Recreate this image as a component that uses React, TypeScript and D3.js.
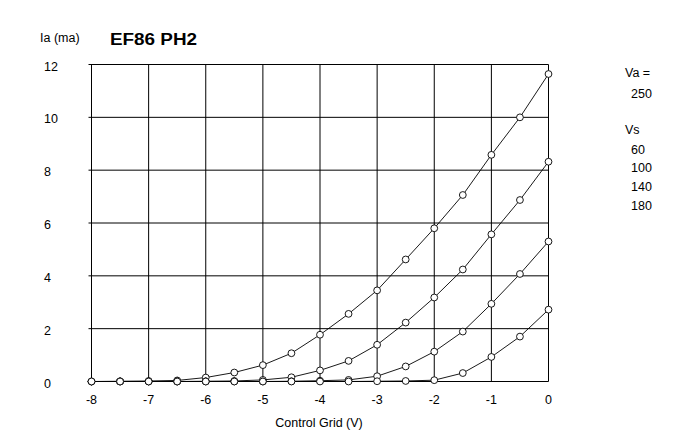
// @ts-nocheck
import React, { useEffect, useRef } from "react";
import * as d3 from "d3";

// grid voltage (V) for every measured point
const gridVolts = [-8, -7.5, -7, -6.5, -6, -5.5, -5, -4.5, -4, -3.5, -3, -2.5, -2, -1.5, -1, -0.5, 0];

// anode current (mA), one array per screen voltage Vs
const ia60 = [0, 0.01, 0.02, 0.04, 0.15, 0.34, 0.62, 1.07, 1.77, 2.56, 3.45, 4.62, 5.8, 7.06, 8.58, 10.0, 11.64];
const ia100 = [0, 0, 0, 0, 0.01, 0.02, 0.06, 0.16, 0.42, 0.78, 1.39, 2.23, 3.18, 4.24, 5.57, 6.87, 8.32];
const ia140 = [0, 0, 0, 0, 0, 0, 0, 0.01, 0.03, 0.06, 0.2, 0.57, 1.13, 1.89, 2.94, 4.07, 5.3];
const ia180 = [0, 0, 0, 0, 0, 0, 0, 0, 0, 0, 0.01, 0.02, 0.05, 0.32, 0.93, 1.7, 2.72];

const seriesNames = ["60", "100", "140", "180"];
const xTicks = [-8, -7, -6, -5, -4, -3, -2, -1, 0];
const yTicks = [0, 2, 4, 6, 8, 10, 12];

const W = 685;
const H = 447;
const FONT = "'Liberation Sans', Arial, sans-serif";
const FS = 12.5;

export default function App() {
  const ref = useRef(null);

  useEffect(() => {
    const svg = d3.select(ref.current);
    svg.selectAll("*").remove();

    const x = d3.scaleLinear().domain([-8, 0]).range([91.5, 548.5]);
    const y = d3.scaleLinear().domain([0, 12]).range([381.5, 64.5]);

    svg.append("rect").attr("width", W).attr("height", H).attr("fill", "#fff");

    // grid
    const grid = svg.append("g").attr("stroke", "#000").attr("stroke-width", 1);
    grid
      .selectAll("line.v")
      .data(xTicks)
      .enter()
      .append("line")
      .attr("x1", (d) => x(d))
      .attr("x2", (d) => x(d))
      .attr("y1", y(12))
      .attr("y2", y(0));
    grid
      .selectAll("line.h")
      .data(yTicks)
      .enter()
      .append("line")
      .attr("x1", x(-8) - 3)
      .attr("x2", x(0))
      .attr("y1", (d) => y(d))
      .attr("y2", (d) => y(d));

    // y tick labels
    svg
      .selectAll("text.yt")
      .data(yTicks)
      .enter()
      .append("text")
      .attr("x", 44)
      .attr("y", (d) => y(d) + 6)
      .attr("font-family", FONT)
      .attr("font-size", FS)
      .text((d) => d);

    // x tick labels
    svg
      .selectAll("text.xt")
      .data(xTicks)
      .enter()
      .append("text")
      .attr("x", (d) => x(d))
      .attr("y", 404)
      .attr("text-anchor", "middle")
      .attr("font-family", FONT)
      .attr("font-size", FS)
      .text((d) => d);

    // curves
    const all = [ia60, ia100, ia140, ia180];
    const line = d3
      .line()
      .x((d, i) => x(gridVolts[i]))
      .y((d) => y(d));

    all.forEach((vals) => {
      svg
        .append("path")
        .attr("d", line(vals))
        .attr("fill", "none")
        .attr("stroke", "#000")
        .attr("stroke-width", 0.9);
    });
    all.forEach((vals) => {
      svg
        .append("g")
        .selectAll("circle")
        .data(vals)
        .enter()
        .append("circle")
        .attr("cx", (d, i) => x(gridVolts[i]))
        .attr("cy", (d) => y(d))
        .attr("r", 3.4)
        .attr("fill", "#fff")
        .attr("stroke", "#000")
        .attr("stroke-width", 0.9);
    });

    // titles
    svg
      .append("text")
      .attr("x", 40)
      .attr("y", 42)
      .attr("font-family", FONT)
      .attr("font-size", FS)
      .text("Ia (ma)");
    svg
      .append("text")
      .attr("x", 110)
      .attr("y", 45)
      .attr("font-family", FONT)
      .attr("font-size", 16)
      .attr("font-weight", "bold")
      .attr("textLength", 87)
      .attr("lengthAdjust", "spacingAndGlyphs")
      .text("EF86 PH2");
    svg
      .append("text")
      .attr("x", 319)
      .attr("y", 427)
      .attr("text-anchor", "middle")
      .attr("font-family", FONT)
      .attr("font-size", FS)
      .text("Control Grid (V)");

    // legend
    const legend = svg.append("g").attr("font-family", FONT).attr("font-size", FS);
    legend.append("text").attr("x", 625).attr("y", 77).text("Va =");
    legend.append("text").attr("x", 631).attr("y", 98).text("250");
    legend.append("text").attr("x", 625).attr("y", 134).text("Vs");
    legend
      .selectAll("text.s")
      .data(seriesNames)
      .enter()
      .append("text")
      .attr("x", 631)
      .attr("y", (d, i) => 153.5 + i * 18.7)
      .text((d) => d);
  }, []);

  return (
    <svg
      ref={ref}
      width={W}
      height={H}
      style={{ position: "absolute", left: 0, top: 0 }}
    />
  );
}
